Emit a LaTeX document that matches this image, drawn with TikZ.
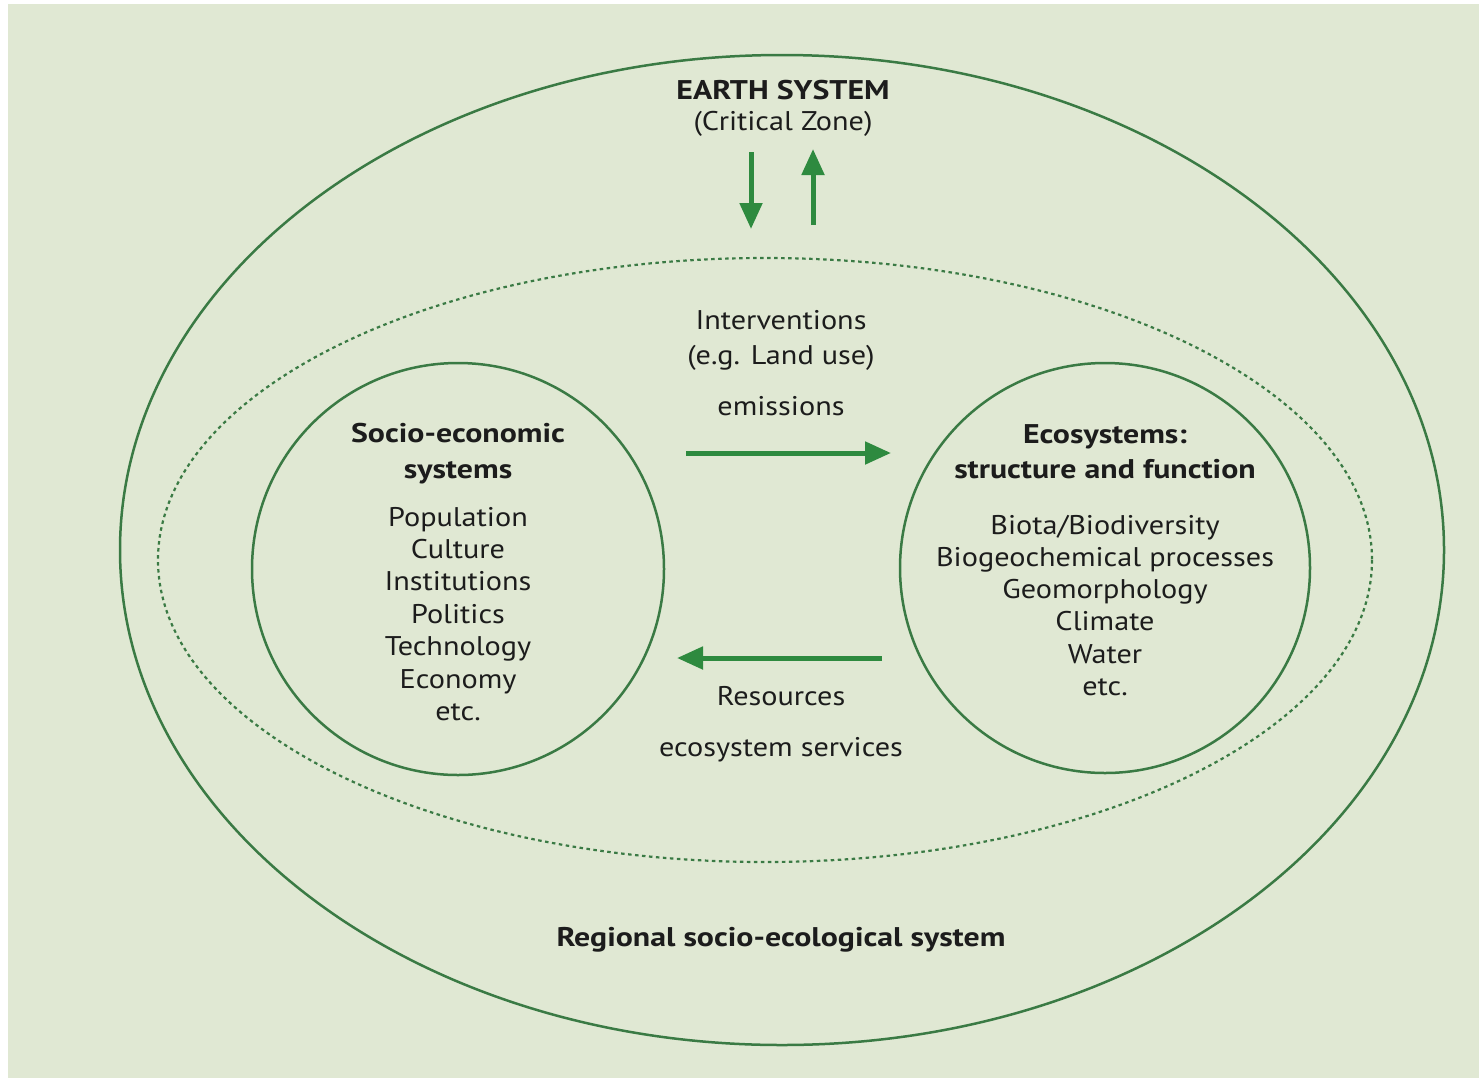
\documentclass[tikz,border=0pt]{standalone}
\usepackage{fontspec}
\setmainfont{PT Sans}[FakeStretch=1.12, BoldFeatures={FakeStretch=1.18}]
\usetikzlibrary{arrows.meta}
\definecolor{panel}{HTML}{E0E8D3}
\definecolor{ring}{HTML}{3A7A44}
\definecolor{flow}{HTML}{2E8A3F}
\definecolor{ink}{HTML}{1C1C1C}

\tikzset{
  txt/.style={anchor=base, inner sep=0pt, text=ink, font=\fontsize{27}{32}\selectfont},
  head/.style={txt, font=\fontsize{27}{32}\selectfont\bfseries},
  flowarrow/.style={draw=flow, line width=5pt, -{Triangle[length=26pt, width=22pt]}},
}

\begin{document}
\begin{tikzpicture}[x=1pt, y=-1pt]
  \useasboundingbox (0,0) rectangle (1479,1079);
  \fill[white] (0,0) rectangle (1479,1079);
  \fill[panel] (8,4) rectangle (1479,1078);

  % outer system boundary and regional (dotted) boundary
  \draw[ring, line width=2.5pt] (782,550) ellipse [x radius=662, y radius=495];
  \draw[ring, line width=2.2pt, dash pattern=on 3.5pt off 3.5pt] (765,560) ellipse [x radius=607, y radius=302];

  % the two subsystems
  \draw[ring, line width=2.5pt] (458,569) circle [radius=206];
  \draw[ring, line width=2.5pt] (1105,568) circle [radius=205];

  % Earth system title
  \node[head] (earth) at (783,99) {EARTH SYSTEM};
  \node[txt] (zone) at (783,130) {(Critical Zone)};

  % exchanges with the Earth system
  \coordinate (downtail) at (751,152);
  \coordinate (downtip) at (751,229);
  \coordinate (uptail) at (813,225);
  \coordinate (uptip) at (813,149);
  \draw[flowarrow] (downtail) -- (downtip);
  \draw[flowarrow] (uptail) -- (uptip);

  % flows between the subsystems
  \coordinate (rtail) at (686,453);
  \coordinate (rtip) at (891,453);
  \coordinate (ltail) at (882,658);
  \coordinate (ltip) at (677,658);
  \draw[flowarrow] (rtail) -- (rtip);
  \draw[flowarrow] (ltail) -- (ltip);

  \node[txt] (interv) at (781,329) {Interventions};
  \node[txt] (landuse) at (781,364) {(e.g. Land use)};
  \node[txt] (emis) at (781,415) {emissions};
  \node[txt] (res) at (781,705) {Resources};
  \node[txt] (ess) at (781,756) {ecosystem services};

  % socio-economic systems
  \node[head] (sochead1) at (458,442) {Socio-economic};
  \node[head] (sochead2) at (458,478) {systems};
  \foreach \t [count=\i] in {Population, Culture, Institutions, Politics, Technology, Economy, etc.}
    \node[txt] (soc-\i) at (458,{526+32.4*(\i-1)}) {\t};

  % ecosystems
  \node[head] (ecohead1) at (1105,443) {Ecosystems:};
  \node[head] (ecohead2) at (1105,478) {structure and function};
  \foreach \t [count=\i] in {Biota/Biodiversity, Biogeochemical processes, Geomorphology, Climate, Water, etc.}
    \node[txt] (eco-\i) at (1105,{534+32.3*(\i-1)}) {\t};

  % regional label
  \node[head] (region) at (781,946) {Regional socio-ecological system};
\end{tikzpicture}
\end{document}
